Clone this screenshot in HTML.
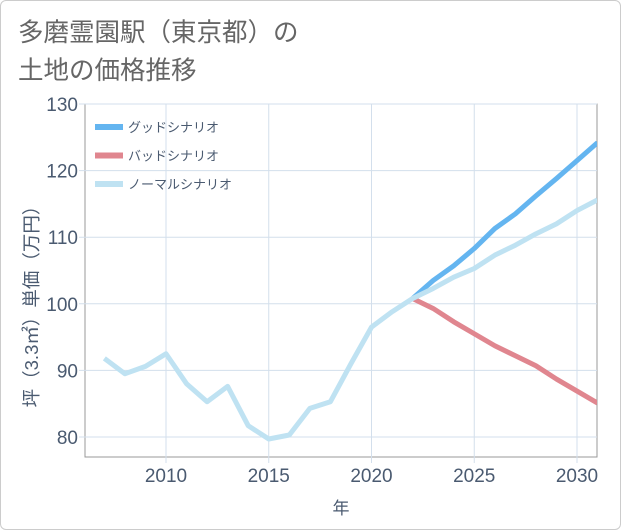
<!DOCTYPE html>
<html><head><meta charset="utf-8"><style>
body{margin:0;background:#fff;font-family:"Liberation Sans","Noto Sans CJK JP",sans-serif}
#wrap{position:relative;width:619px;height:528px;border:1px solid #ccc;border-radius:6px;overflow:hidden}
</style></head><body>
<div id="wrap">
<svg id="chart" width="621" height="530" style="position:absolute;left:-1px;top:-1px"></svg>
</div>
<script>
const years=[2007,2008,2009,2010,2011,2012,2013,2014,2015,2016,2017,2018,2019,2020,2021,2022,2023,2024,2025,2026,2027,2028,2029,2030,2031];
const normal=[91.8,89.5,90.6,92.5,88,85.3,87.6,81.7,79.7,80.3,84.3,85.3,91,96.5,98.8,100.8,102.3,104,105.3,107.3,108.8,110.5,112,114,115.6];
const goodYears=[2022,2023,2024,2025,2026,2027,2028,2029,2030,2031];
const good=[100.8,103.5,105.7,108.3,111.3,113.5,116.2,118.8,121.5,124.2];
const bad=[100.8,99.3,97.3,95.5,93.7,92.2,90.7,88.7,86.9,85.1];
const yTicks=[80,90,100,110,120,130];
const xTicks=[2010,2015,2020,2025,2030];
const NS="http://www.w3.org/2000/svg";
const svg=document.getElementById('chart');
const L=85,R=597,T=104,B=457;
function X(y){return 166+(y-2010)*20.55;}
function Y(v){return 437-(v-80)*6.66;}
function mk(tag,attrs,parent){const e=document.createElementNS(NS,tag);for(const k in attrs)e.setAttribute(k,attrs[k]);(parent||svg).appendChild(e);return e;}
function txt(s,attrs){const e=mk('text',attrs);e.textContent=s;return e;}
let t;
t=txt('多磨霊園駅（東京都）の',{x:18,y:41,'font-size':25.5,fill:'#666'});


t=txt('土地の価格推移',{x:18,y:79,'font-size':25.5,fill:'#666'});


let e=mk('rect',{x:L,y:T,width:R-L,height:B-T,fill:'#fff',stroke:'#999','stroke-width':1});


yTicks.forEach(v=>{
 const l=mk('line',{x1:L-6,x2:R,y1:Y(v),y2:Y(v),stroke:'#d3dfec','stroke-width':1});
 
 
 const tt=txt(String(v),{x:L-7,y:Y(v)+7,'font-size':19,fill:'#4a5a70','text-anchor':'end'});
 
 
});
xTicks.forEach(v=>{
 const l=mk('line',{x1:X(v),x2:X(v),y1:T,y2:B+6,stroke:'#d3dfec','stroke-width':1});
 
 
 const tt=txt(String(v),{x:X(v),y:B+25,'font-size':19,fill:'#4a5a70','text-anchor':'middle'});
 
 
});
t=txt('年',{x:341,y:514,'font-size':17,fill:'#4a5a70','text-anchor':'middle'});


t=txt('坪（3.3㎡）単価（万円）',{x:0,y:0,'font-size':18.5,fill:'#4a5a70','text-anchor':'middle',transform:'translate(38,302) rotate(-90)'});


const defs=mk('defs',{});const cp=mk('clipPath',{id:'clip'},defs);mk('rect',{x:L,y:T,width:R-L,height:B-T},cp);
function line(xs,vs,color,name){
 const p=mk('polyline',{points:xs.map((x,i)=>X(x)+','+Y(vs[i])).join(' '),fill:'none',stroke:color,'stroke-width':5,'stroke-linejoin':'round','clip-path':'url(#clip)'});
 
 
}
line(goodYears,bad,'#e0868f','bad-scenario-line');
line(goodYears,good,'#64b5f0','good-scenario-line');
line(years,normal,'#bfe2f2','normal-scenario-line');
const leg=[['グッドシナリオ','#64b5f0'],['バッドシナリオ','#e0868f'],['ノーマルシナリオ','#bfe2f2']];
leg.forEach((d,i)=>{
 const y=127+i*28.5;
 const r=mk('rect',{x:95,y:y-3,width:28,height:6,fill:d[1]});
 
 
 const tt=txt(d[0],{x:128,y:y+5,'font-size':13,fill:'#4a5a70'});
 
 
});
</script>
</body></html>
